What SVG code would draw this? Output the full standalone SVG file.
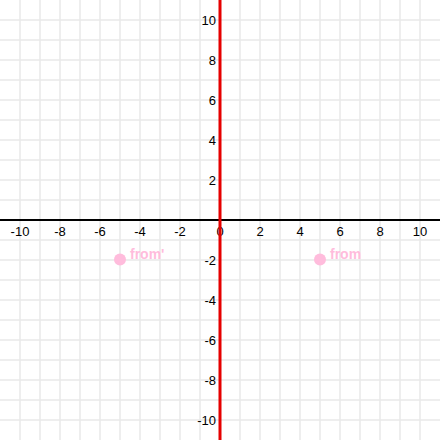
<svg xmlns="http://www.w3.org/2000/svg" width="440" height="440" viewBox="0 0 440 440">
<style>
.grid line{stroke:#e8e8e8;stroke-width:1.5}
.xl{font-family:"Liberation Sans",Arial,sans-serif;font-size:13px;fill:#000;text-anchor:middle}
.yl{font-family:"Liberation Sans",Arial,sans-serif;font-size:13px;fill:#000;text-anchor:end}
.pt{fill:#ffbcdc}
.pl{font-family:"Liberation Sans",Arial,sans-serif;font-size:14px;font-weight:bold;fill:#ffbcdc}
</style>
<rect width="440" height="440" fill="#fff"/>
<g class="grid">
<line x1="20" y1="0" x2="20" y2="440"/><line x1="40" y1="0" x2="40" y2="440"/><line x1="60" y1="0" x2="60" y2="440"/><line x1="80" y1="0" x2="80" y2="440"/><line x1="100" y1="0" x2="100" y2="440"/><line x1="120" y1="0" x2="120" y2="440"/><line x1="140" y1="0" x2="140" y2="440"/><line x1="160" y1="0" x2="160" y2="440"/><line x1="180" y1="0" x2="180" y2="440"/><line x1="200" y1="0" x2="200" y2="440"/><line x1="240" y1="0" x2="240" y2="440"/><line x1="260" y1="0" x2="260" y2="440"/><line x1="280" y1="0" x2="280" y2="440"/><line x1="300" y1="0" x2="300" y2="440"/><line x1="320" y1="0" x2="320" y2="440"/><line x1="340" y1="0" x2="340" y2="440"/><line x1="360" y1="0" x2="360" y2="440"/><line x1="380" y1="0" x2="380" y2="440"/><line x1="400" y1="0" x2="400" y2="440"/><line x1="420" y1="0" x2="420" y2="440"/>
<line x1="0" y1="20" x2="440" y2="20"/><line x1="0" y1="40" x2="440" y2="40"/><line x1="0" y1="60" x2="440" y2="60"/><line x1="0" y1="80" x2="440" y2="80"/><line x1="0" y1="100" x2="440" y2="100"/><line x1="0" y1="120" x2="440" y2="120"/><line x1="0" y1="140" x2="440" y2="140"/><line x1="0" y1="160" x2="440" y2="160"/><line x1="0" y1="180" x2="440" y2="180"/><line x1="0" y1="200" x2="440" y2="200"/><line x1="0" y1="240" x2="440" y2="240"/><line x1="0" y1="260" x2="440" y2="260"/><line x1="0" y1="280" x2="440" y2="280"/><line x1="0" y1="300" x2="440" y2="300"/><line x1="0" y1="320" x2="440" y2="320"/><line x1="0" y1="340" x2="440" y2="340"/><line x1="0" y1="360" x2="440" y2="360"/><line x1="0" y1="380" x2="440" y2="380"/><line x1="0" y1="400" x2="440" y2="400"/><line x1="0" y1="420" x2="440" y2="420"/>
</g>
<g id="axes">
<line x1="0" y1="220" x2="440" y2="220" stroke="#000" stroke-width="2"/>
<line x1="220" y1="0" x2="220" y2="440" stroke="#000" stroke-width="2"/>
</g>
<g id="xlabels">
<text class="xl" x="20" y="236">-10</text><text class="xl" x="60" y="236">-8</text><text class="xl" x="100" y="236">-6</text><text class="xl" x="140" y="236">-4</text><text class="xl" x="180" y="236">-2</text><text class="xl" x="220" y="236">0</text><text class="xl" x="260" y="236">2</text><text class="xl" x="300" y="236">4</text><text class="xl" x="340" y="236">6</text><text class="xl" x="380" y="236">8</text><text class="xl" x="420" y="236">10</text>
</g>
<g id="ylabels">
<text class="yl" x="216" y="25">10</text><text class="yl" x="216" y="65">8</text><text class="yl" x="216" y="105">6</text><text class="yl" x="216" y="145">4</text><text class="yl" x="216" y="185">2</text><text class="yl" x="216" y="265">-2</text><text class="yl" x="216" y="305">-4</text><text class="yl" x="216" y="345">-6</text><text class="yl" x="216" y="385">-8</text><text class="yl" x="216" y="425">-10</text>
</g>
<g id="connectors">
<line x1="220" y1="0" x2="220" y2="440" stroke="#e60000" stroke-width="3"/>
</g>
<g id="from">
<circle class="pt" cx="320" cy="259.5" r="6"/>
<text class="pl" x="330" y="259">from</text>
</g>
<g id="from-prime">
<circle class="pt" cx="120" cy="259.5" r="6"/>
<text class="pl" x="130" y="259">from'</text>
</g>
</svg>
